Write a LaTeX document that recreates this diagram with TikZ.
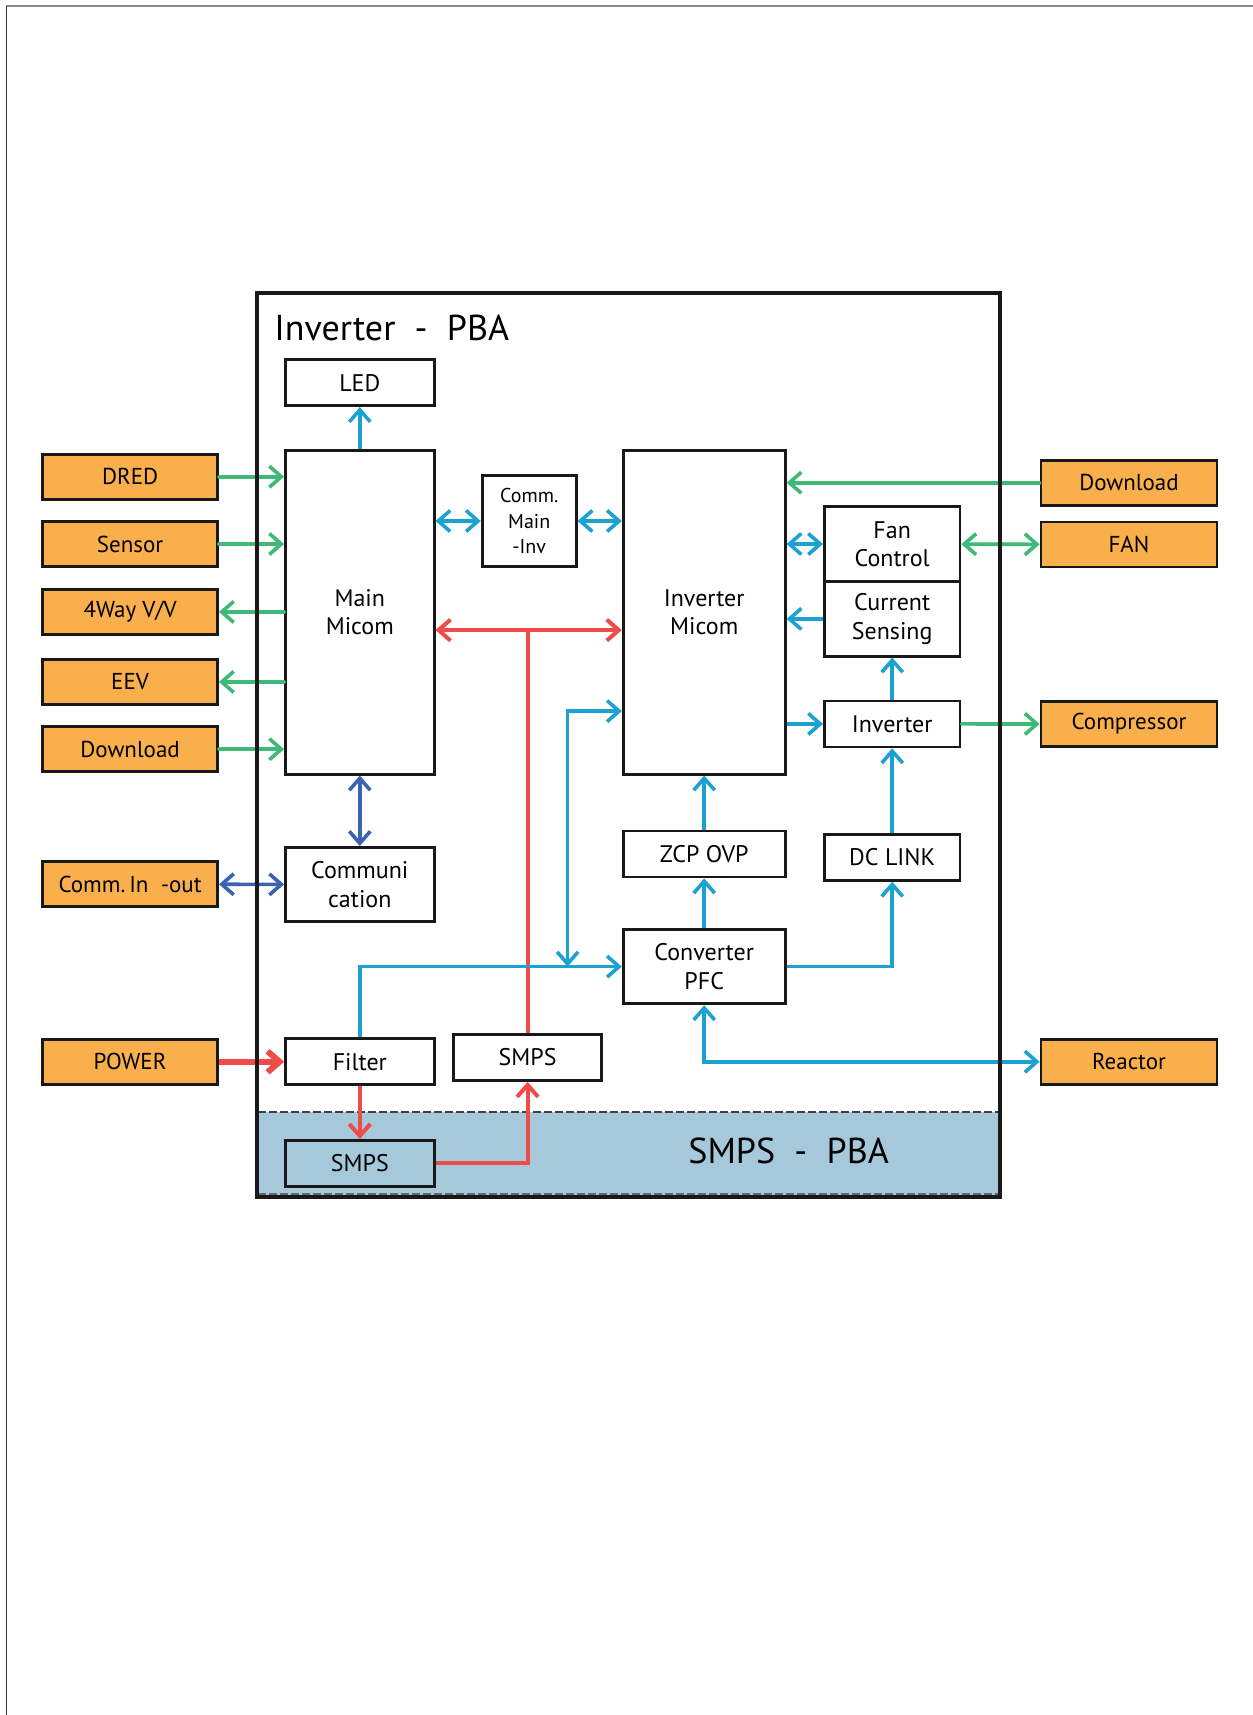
\documentclass[tikz,border=0pt]{standalone}
\usepackage{fontspec}
\setmainfont{PT Sans}
\usetikzlibrary{arrows.meta,positioning}

\definecolor{sigGreen}{RGB}{62,185,120}
\definecolor{sigBlue}{RGB}{27,161,210}
\definecolor{sigRed}{RGB}{237,76,72}
\definecolor{sigNavy}{RGB}{61,99,176}
\definecolor{extOrange}{RGB}{249,176,76}
\definecolor{pbaBand}{RGB}{165,201,219}

\begin{document}
\begin{tikzpicture}[x=0.5pt, y=-0.5pt, >={Straight Barb[length=6pt,width=10.5pt]},
  blk/.style={draw=black!90, line width=1.4pt, fill=white, inner sep=0pt, align=center,
    font=\fontsize{12}{14.2}\selectfont},
  ext/.style={blk, fill=extOrange, minimum width=87.5pt, minimum height=22.5pt,
    font=\fontsize{11.5}{13}\selectfont},
  gline/.style={sigGreen, line width=1.8pt, line cap=round},
  bline/.style={sigBlue, line width=1.8pt},
  rline/.style={sigRed, line width=2pt},
  cline/.style={sigNavy, line width=1.8pt}]
\useasboundingbox (0,0) rectangle (1253,1715);
% page edges
\draw[black!45, line width=0.8pt] (6,6) -- (1253,6);
\draw[black!80, line width=0.8pt] (6.5,6) -- (6.5,1715);

% smps board
\fill[pbaBand] (258,1112) rectangle (998,1195);
\draw[black!75, line width=0.9pt, dash pattern=on 4pt off 1.5pt] (258,1112) -- (998,1112);
\draw[black!60, line width=0.9pt, dash pattern=on 4pt off 1.5pt] (258,1194) -- (998,1194);
\node[anchor=base west, inner sep=0pt, font=\fontsize{18}{20}\selectfont] (smpsttl) at (688,1163) {SMPS~~-~~PBA};
\node[anchor=base west, inner sep=0pt, font=\fontsize{18}{20}\selectfont] (invttl) at (274,340) {Inverter~~-~~PBA};

% blocks
\node[blk, minimum width=74.3pt, minimum height=23pt] (led) at (359.8,382.7) {LED};
\node[blk, minimum width=74.3pt, minimum height=161.8pt] (mainmc) at (359.8,612.3) {Main\\Micom};
\node[blk, minimum width=47pt, minimum height=45.4pt, font=\fontsize{10}{12.6}\selectfont] (commmi) at (529.2,521) {Comm.\\Main\\-Inv};
\node[blk, minimum width=81pt, minimum height=161.8pt] (invmc) at (704.2,612.3) {Inverter\\Micom};
\node[blk, minimum width=67.8pt, minimum height=37.7pt] (fanctl) at (892.2,544) {Fan\\Control};
\node[blk, minimum width=67.8pt, minimum height=37.2pt] (cursns) at (892.2,618.9) {Current\\Sensing};
\node[blk, minimum width=67.8pt, minimum height=23pt] (inv) at (892.2,723.9) {Inverter};
\node[blk, minimum width=81pt, minimum height=23pt] (zcp) at (704.2,854) {ZCP OVP};
\node[blk, minimum width=67.8pt, minimum height=23pt] (dclink) at (892.2,857.3) {DC LINK};
\node[blk, minimum width=81pt, minimum height=37.2pt] (pfc) at (704.2,966.6) {Converter\\PFC};
\node[blk, minimum width=74.3pt, minimum height=37.2pt] (commu) at (359.8,884.6) {Communi\\cation};
\node[blk, minimum width=74.3pt, minimum height=23pt] (filter) at (359.8,1061.7) {Filter};
\node[blk, minimum width=73.8pt, minimum height=23pt] (smpsup) at (527.6,1057.4) {SMPS};
\node[blk, fill=pbaBand, minimum width=74.3pt, minimum height=23pt] (smpslo) at (359.8,1163.4) {SMPS};

% outside parts
\node[ext] (dred) at (130.1,476.7) {DRED};
\node[ext] (sensor) at (130.1,544) {Sensor};
\node[ext] (fourway) at (130.1,611.9) {4Way V/V};
\node[ext] (eev) at (130.1,681.9) {EEV};
\node[ext] (dlleft) at (130.1,749.2) {Download};
\node[ext] (commio) at (130.1,884) {Comm.\,In~~-out};
\node[ext] (power) at (130.1,1061.7) {POWER};
\node[ext, minimum width=88pt] (dlright) at (1129,482.7) {Download};
\node[ext, minimum width=88pt] (fan) at (1129,544.5) {FAN};
\node[ext, minimum width=88pt] (comp) at (1129,724) {Compressor};
\node[ext, minimum width=88pt] (reactor) at (1129,1061.7) {Reactor};

\path ([yshift=-8.9pt]mainmc.east) coordinate (rl)
      ([yshift=-8.9pt]invmc.west) coordinate (rr)
      ([yshift=-49.4pt]invmc.west) coordinate (micomin)
      (pfc.west) ++(-54.2,0) coordinate (tap);

% main micom side
\draw[gline,->] (dred) -- (mainmc.west |- dred);
\draw[gline,->] (sensor) -- (mainmc.west |- sensor);
\draw[gline,->] (mainmc.west |- fourway) -- (fourway);
\draw[gline,->] (mainmc.west |- eev) -- (eev);
\draw[gline,->] (dlleft) -- (mainmc.west |- dlleft);
\draw[cline,<->] (commio) -- (commu);
\draw[cline,<->] (mainmc) -- (commu);
\draw[bline,->] (mainmc) -- (led);
\draw[bline,<->] (mainmc.east |- commmi) -- (commmi);
\draw[bline,<->] (commmi) -- (invmc.west |- commmi);

% power
\draw[rline,<->] (rl) -- (rr);
\draw[rline] (smpsup) -- (smpsup |- rl);
\draw[rline,->, line width=3pt] (power) -- (filter);
\draw[rline,->] (filter) -- (smpslo);
\draw[rline,->] (smpslo) -| (smpsup);

% inverter micom side
\draw[gline,->] (dlright) -- (invmc.east |- dlright);
\draw[bline,<->] (invmc.east |- fanctl) -- (fanctl);
\draw[gline,<->] (fanctl) -- (fan);
\draw[bline,->] (cursns) -- (invmc.east |- cursns);
\draw[bline,->] (invmc.east |- inv) -- (inv);
\draw[gline,->] (inv) -- (comp);
\draw[bline,->] (inv) -- (cursns);
\draw[bline,->] (dclink) -- (inv);
\draw[bline,->] (pfc) -| (dclink);
\draw[bline,->] (pfc) -- (zcp);
\draw[bline,->] (zcp) -- (invmc);
\draw[bline,<->] (pfc) |- (reactor);
\draw[bline,->] (filter) |- (pfc);
\draw[bline,<->] (tap) |- (micomin);

% inverter board
\draw[black!90, line width=2.2pt] (257,293) rectangle (1000,1197);
\end{tikzpicture}
\end{document}
